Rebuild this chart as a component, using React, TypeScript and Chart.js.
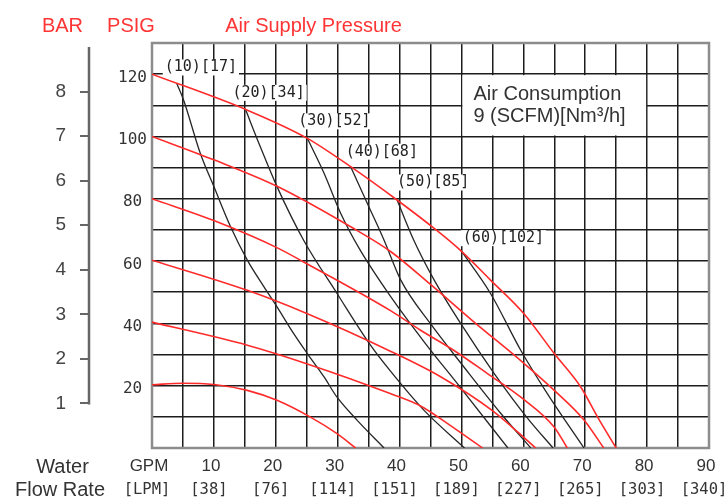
import React, { useEffect, useRef } from 'react';
import { Chart, registerables } from 'chart.js';

Chart.register(...registerables);

// ---------- data ----------
const gpmTicks = [0, 10, 20, 30, 40, 50, 60, 70, 80, 90];
const gpmLabels = ['GPM', '10', '20', '30', '40', '50', '60', '70', '80', '90'];
const lpmLabels = ['[LPM]', '[38]', '[76]', '[114]', '[151]', '[189]', '[227]', '[265]', '[303]', '[340]'];
const psiLabels = [20, 40, 60, 80, 100, 120];
const barTicks = [1, 2, 3, 4, 5, 6, 7, 8];
const psiPerBar = 14.3;

const titleBar = 'BAR';
const titlePsig = 'PSIG';
const titleAir = 'Air Supply Pressure';
const rowTitle1 = 'Water';
const rowTitle2 = 'Flow Rate';
const consumptionTitle = 'Air Consumption';
const consumptionUnit = '9 (SCFM)[Nm³/h]';

// Air supply pressure curves (GPM, PSIG)
const psi120 = [[0, 120], [15.1, 108.7], [25.1, 99.4], [32.1, 90.3], [39.6, 79.6], [45.9, 70], [49.8, 63.5], [54.7, 53.9], [60.1, 43.1], [65, 30.3], [69.3, 19.5], [72, 9.9], [75, 0]];
const psi100 = [[0, 100], [10, 92.5], [20.2, 84], [32.1, 71], [38.6, 63], [45, 52.5], [52, 40.5], [59.9, 27.5], [65, 18.5], [69.8, 9], [73, 0]];
const psi80 = [[0, 80], [10.5, 72.6], [20.5, 64], [24.5, 59.7], [38.6, 44], [43.4, 37.8], [48.8, 31.3], [54.2, 23.9], [59.6, 16.3], [65, 6.7], [67.1, 0]];
const psi60 = [[0, 60.3], [15.4, 50.6], [25.1, 43.1], [38.6, 31], [46.7, 22.8], [55, 12], [62, 0]];
const psi40 = [[0, 40.4], [15.4, 33], [25.1, 27], [38.6, 17.4], [43.4, 13.5], [48, 7.5], [53.4, 0]];
const psi20 = [[0, 20.3], [5, 20.8], [10, 20.4], [15.4, 18.5], [20.2, 15.3], [25.6, 9.9], [29.9, 4.6], [32.9, 0]];

// Air consumption curves (GPM, PSIG)
const scfm10 = [[4, 117], [5.1, 111.7], [7.8, 94.6], [10, 83.9], [12.7, 71], [15.4, 60.3], [18.1, 51.7], [20.2, 45.3], [22.9, 36.7], [25.1, 30.3], [27.8, 22.8], [29.9, 16.3], [33.2, 8.8], [37.5, 0]];
const scfm20 = [[15.1, 108.7], [17.5, 96.7], [20.2, 83.9], [24.5, 66.7], [29.9, 49.6], [35.3, 33], [38.6, 24.5], [44, 12], [50.5, 0]];
const scfm30 = [[25.1, 99.4], [27.8, 88.2], [30.5, 75.3], [33.5, 64], [38.6, 48.5], [44, 34], [50, 19], [57.5, 0]];
const scfm40 = [[32.1, 90.3], [34.8, 78.5], [37.5, 66.7], [40.2, 53.9], [45, 39.9], [50.4, 26], [56.4, 11], [61.2, 0]];
const scfm50 = [[39.6, 79.6], [42.3, 66.7], [45.6, 53.9], [49.9, 39.9], [55.3, 23.9], [60.7, 9.5], [64.8, 0]];
const scfm60 = [[49.9, 63.5], [54.7, 49.6], [59.6, 31.3], [63.9, 17.4], [69.8, 0]];
const scfmLabels = ['(10)[17]', '(20)[34]', '(30)[52]', '(40)[68]', '(50)[85]', '(60)[102]'];

const pressureSeries = [psi120, psi100, psi80, psi60, psi40, psi20];
const consumptionSeries = [scfm10, scfm20, scfm30, scfm40, scfm50, scfm60];

// ---------- styles ----------
const RED = '#ff2b2b';
const DARK = '#262626';
const GRID = '#1c1c1c';
const SANS = '"Liberation Sans", Arial, sans-serif';
const MONO = '"DejaVu Sans Mono", monospace';

const labelOffsets = [[-12, -16], [-13, -16.5], [-9, -17], [-5, -15], [0, -17.5], [2, -12]];

const toXY = (arr: number[][]) => arr.map(([x, y]) => ({ x, y }));

const decor = {
  id: 'decor',
  beforeDraw(chart: any) {
    const { ctx, width, height } = chart;
    ctx.save();
    ctx.fillStyle = '#fff';
    ctx.fillRect(0, 0, width, height);
    ctx.restore();
  },
  beforeDatasetsDraw(chart: any) {
    const { ctx, chartArea: a, scales } = chart;
    const x = scales.x;
    const y = scales.y;
    ctx.save();
    // border
    ctx.strokeStyle = '#8c8c8c';
    ctx.lineWidth = 2.5;
    ctx.strokeRect(a.left, a.top, a.right - a.left, a.bottom - a.top);
    // air consumption box
    const bx1 = x.getPixelForValue(50);
    const bx2 = x.getPixelForValue(80);
    const by1 = y.getPixelForValue(120);
    const by2 = y.getPixelForValue(100);
    ctx.fillStyle = '#fff';
    ctx.fillRect(bx1 + 1, by1 + 1, bx2 - bx1 - 2, by2 - by1 - 2);
    ctx.fillStyle = '#333';
    ctx.font = '20px ' + SANS;
    ctx.textAlign = 'left';
    ctx.textBaseline = 'middle';
    ctx.fillText(consumptionTitle, bx1 + 12, by1 + 20);
    ctx.fillText(consumptionUnit, bx1 + 12, by1 + 42);
    // SCFM labels
    ctx.font = '15px ' + MONO;
    consumptionSeries.forEach((s, i) => {
      const px = x.getPixelForValue(s[0][0]) + labelOffsets[i][0];
      const py = y.getPixelForValue(s[0][1]) + labelOffsets[i][1];
      const w = ctx.measureText(scfmLabels[i]).width;
      ctx.fillStyle = '#fff';
      ctx.fillRect(px - 2, py - 8, w + 4, 16);
      ctx.fillStyle = '#222';
      ctx.fillText(scfmLabels[i], px, py);
    });
    ctx.restore();
  },
  afterDraw(chart: any) {
    const { ctx, chartArea: a, scales } = chart;
    const y2 = scales.y2;
    ctx.save();
    // titles
    ctx.fillStyle = '#ff3535';
    ctx.font = '20px ' + SANS;
    ctx.textAlign = 'center';
    ctx.textBaseline = 'middle';
    ctx.fillText(titleBar, 62.5, 26);
    ctx.fillText(titlePsig, 131, 26);
    ctx.fillText(titleAir, 313.5, 26);
    // row titles
    ctx.fillStyle = '#333';
    ctx.fillText(rowTitle1, 62.5, 467);
    ctx.fillText(rowTitle2, 60, 490);
    // BAR axis line
    ctx.strokeStyle = '#666';
    ctx.lineWidth = 2.5;
    ctx.beginPath();
    ctx.moveTo(y2.right - 1, a.top + 4);
    ctx.lineTo(y2.right - 1, y2.getPixelForValue(barTicks[0]) + 1);
    ctx.stroke();
    ctx.restore();
  },
};

export default function App() {
  const ref = useRef<HTMLCanvasElement>(null);
  useEffect(() => {
    document.body.style.margin = '0';
    const datasets: any[] = [];
    pressureSeries.forEach((s) => {
      datasets.push({
        data: toXY(s),
        borderColor: RED,
        borderWidth: 1.6,
        pointRadius: 0,
        showLine: true,
        cubicInterpolationMode: 'monotone',
      });
    });
    consumptionSeries.forEach((s) => {
      datasets.push({
        data: toXY(s),
        borderColor: DARK,
        borderWidth: 1.3,
        pointRadius: 0,
        showLine: true,
        cubicInterpolationMode: 'monotone',
      });
    });
    const steps = (max: number, step: number) => {
      const out: { value: number }[] = [];
      for (let v = 0; v <= max + 1e-9; v += step) out.push({ value: v });
      return out;
    };
    const chart = new Chart(ref.current as HTMLCanvasElement, {
      type: 'scatter',
      data: { datasets },
      plugins: [decor],
      options: {
        animation: false,
        responsive: false,
        layout: { padding: { top: 43, right: 18, left: 0, bottom: 0 } },
        plugins: { legend: { display: false }, tooltip: { enabled: false } },
        scales: {
          x: {
            type: 'linear',
            position: 'bottom',
            weight: 0,
            min: 0,
            max: 90,
            afterBuildTicks: (s: any) => { s.ticks = steps(90, 5); },
            afterFit: (s: any) => { s.height = 30; s.paddingLeft = 0; s.paddingRight = 0; },
            ticks: {
              autoSkip: false,
              maxRotation: 0,
              padding: 8.5,
              labelOffset: -3,
              color: '#333',
              font: { family: 'Liberation Sans', size: 17, lineHeight: 1.2 },
              callback: (v: any) => {
                const i = gpmTicks.indexOf(Number(v));
                return i >= 0 ? gpmLabels[i] : '';
              },
            },
            grid: { color: GRID, lineWidth: 1.5, drawTicks: false },
            border: { display: false },
          },
          x2: {
            type: 'linear',
            position: 'bottom',
            weight: 1,
            min: 0,
            max: 90,
            afterBuildTicks: (s: any) => { s.ticks = gpmTicks.map((v) => ({ value: v })); },
            afterFit: (s: any) => { s.height = 24; s.paddingLeft = 0; s.paddingRight = 0; },
            ticks: {
              autoSkip: false,
              maxRotation: 0,
              padding: 2.5,
              labelOffset: -5,
              color: '#333',
              font: { family: 'DejaVu Sans Mono', size: 15.5, lineHeight: 1.2 },
              callback: (v: any) => {
                const i = gpmTicks.indexOf(Number(v));
                return i >= 0 ? lpmLabels[i] : '';
              },
            },
            grid: { display: false, drawOnChartArea: false, drawTicks: false },
            border: { display: false },
          },
          y: {
            type: 'linear',
            position: 'left',
            weight: 0,
            min: 0,
            max: 130,
            afterBuildTicks: (s: any) => { s.ticks = steps(130, 10); },
            afterFit: (s: any) => { s.width = 62; s.paddingTop = 0; s.paddingBottom = 0; },
            ticks: {
              autoSkip: false,
              crossAlign: 'center',
              padding: 5,
              labelOffset: 3.5,
              color: '#333',
              font: { family: 'DejaVu Sans Mono', size: 16 },
              callback: (v: any) => (psiLabels.includes(Number(v)) ? String(v) : ''),
            },
            grid: { color: GRID, lineWidth: 1.5, drawTicks: false },
            border: { display: false },
          },
          y2: {
            type: 'linear',
            position: 'left',
            weight: 1,
            min: 0,
            max: 130 / psiPerBar,
            afterBuildTicks: (s: any) => { s.ticks = barTicks.map((v) => ({ value: v })); },
            afterFit: (s: any) => { s.width = 90; s.paddingTop = 0; s.paddingBottom = 0; },
            ticks: {
              autoSkip: false,
              padding: 14,
              color: '#444',
              font: { family: 'Liberation Sans', size: 19 },
              callback: (v: any) => String(v),
            },
            grid: { drawOnChartArea: false, drawTicks: true, tickLength: 10, color: '#666', lineWidth: 2 },
            border: { display: false },
          },
        },
      } as any,
    });
    return () => chart.destroy();
  }, []);
  return (
    <div style={{ width: 727, height: 502 }}>
      <canvas ref={ref} width={727} height={502} style={{ display: 'block' }} />
    </div>
  );
}
